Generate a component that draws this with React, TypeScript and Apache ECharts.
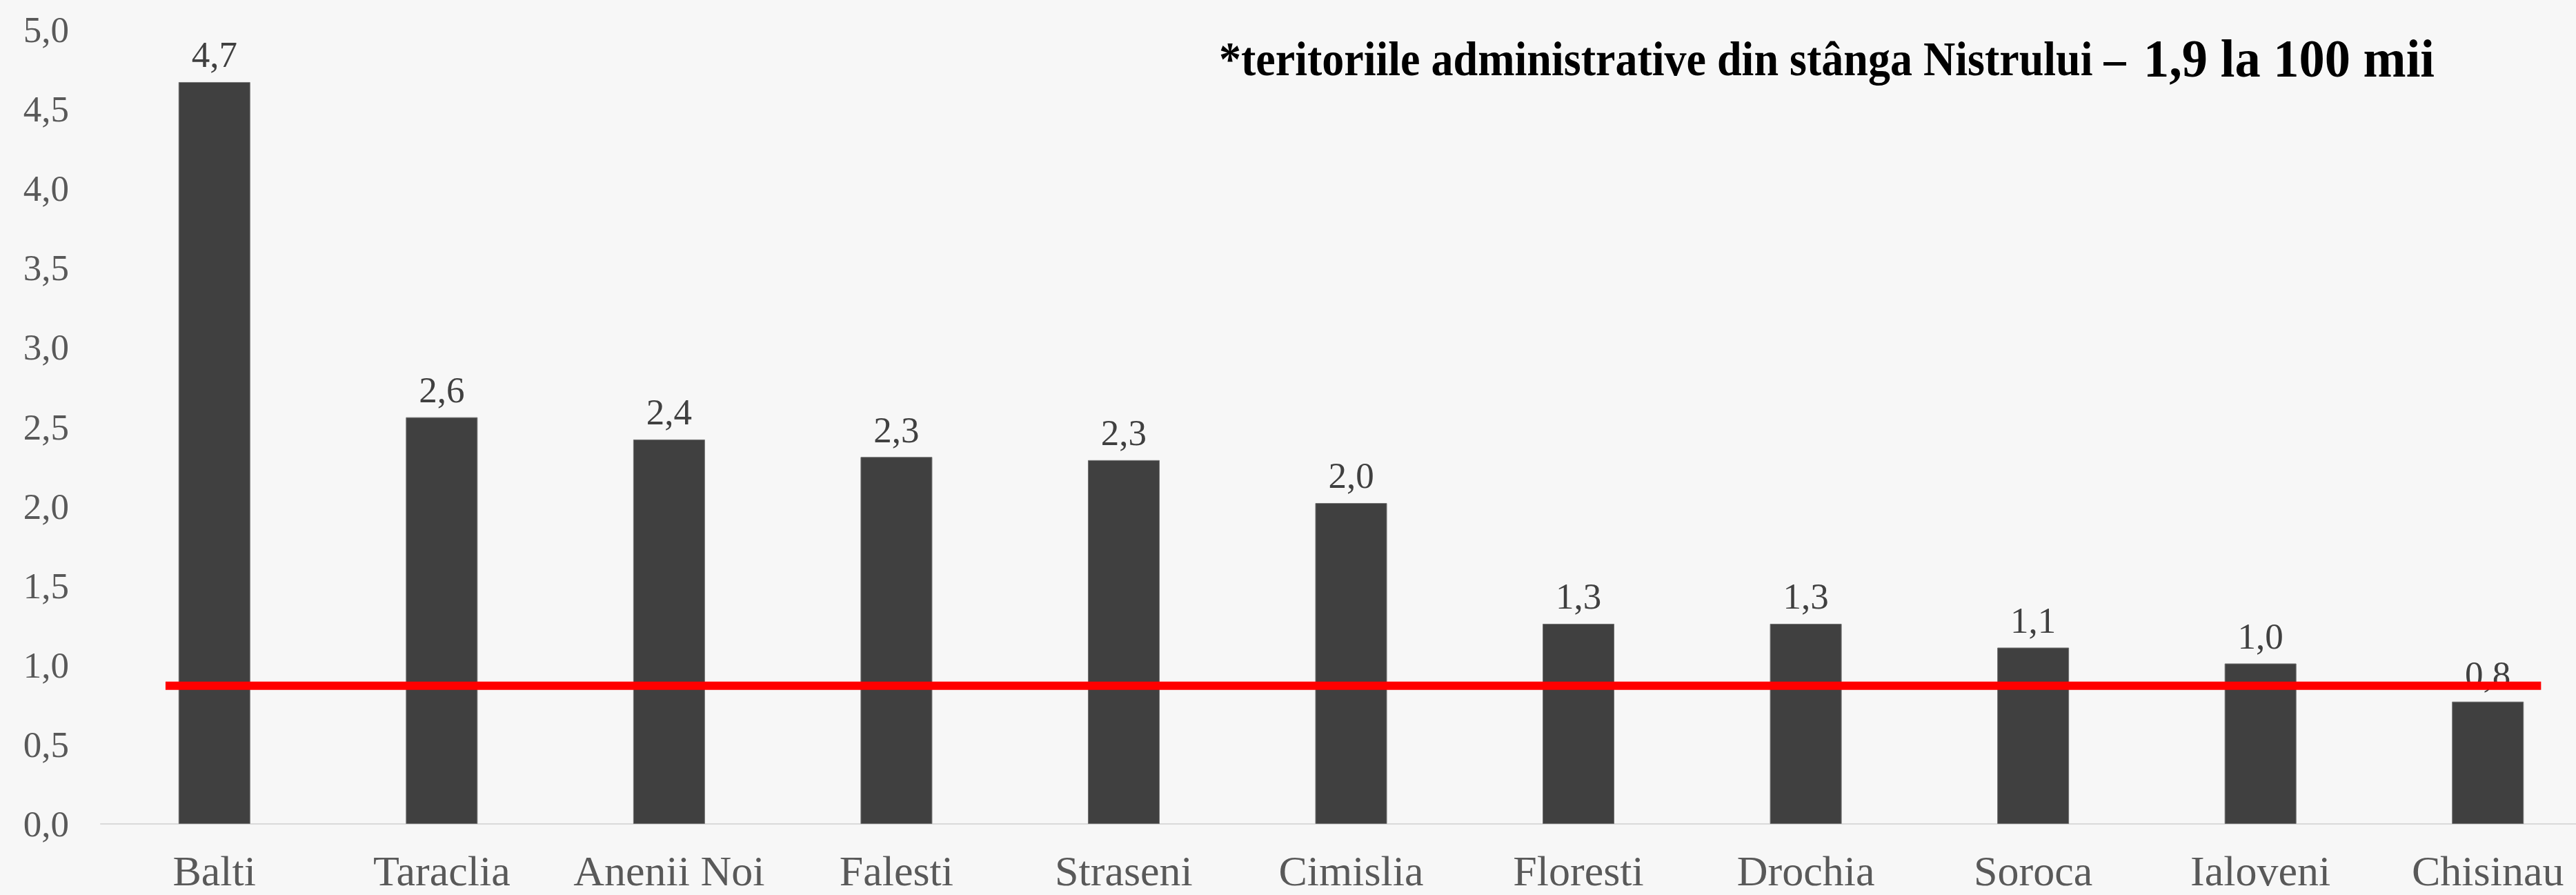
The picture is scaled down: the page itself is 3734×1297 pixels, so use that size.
import React, { useEffect, useRef } from "react";
import * as echarts from "echarts";

const categories = ["Balti", "Taraclia", "Anenii Noi", "Falesti", "Straseni", "Cimislia", "Floresti", "Drochia", "Soroca", "Ialoveni", "Chisinau"];
const values = [4.67, 2.56, 2.42, 2.31, 2.29, 2.02, 1.26, 1.26, 1.11, 1.01, 0.77];
const thresholdValue = 0.87;
const thresholdSpan = [-0.215, 10.234];
const yTicks = { min: 0, max: 5, interval: 0.5 };
const noteMain = "*teritoriile administrative din stânga Nistrului –";
const noteValue = "1,9 la 100 mii";

const FONT = "'Liberation Serif', 'Times New Roman', serif";
const fmt = (v: number) => v.toFixed(1).replace(".", ",");

export default function App() {
  const ref = useRef<HTMLDivElement>(null);
  useEffect(() => {
    if (!ref.current) return;
    const chart = echarts.init(ref.current, undefined, { renderer: "svg" });
    chart.setOption({
      animation: false,
      backgroundColor: "#F7F7F7",
      grid: {
        left: 146,
        top: 43,
        width: 3625,
        bottom: 103,
        containLabel: false,
        outerBoundsMode: "none",
      },
      xAxis: [
        {
          type: "category",
          data: categories,
          axisTick: { show: false },
          axisLine: { lineStyle: { color: "#D9D9D9", width: 2 } },
          axisLabel: {
            fontFamily: FONT,
            fontSize: 62,
            lineHeight: 40,
            color: "#595959",
            margin: 48,
            interval: 0,
          },
        },
        {
          type: "value",
          min: -0.5,
          max: 10.5,
          show: false,
        },
      ],
      yAxis: {
        type: "value",
        min: yTicks.min,
        max: yTicks.max,
        interval: yTicks.interval,
        splitLine: { show: false },
        axisLine: { show: false },
        axisTick: { show: false },
        axisLabel: {
          fontFamily: FONT,
          fontSize: 53,
          color: "#595959",
          margin: 46,
          formatter: (v: number) => fmt(v),
        },
      },
      series: [
        {
          type: "bar",
          data: values,
          barWidth: 104,
          itemStyle: { color: "#404040", borderColor: "#707070", borderWidth: 1 },
          label: {
            show: true,
            position: "top",
            distance: 13,
            fontFamily: FONT,
            fontSize: 53,
            color: "#404040",
            formatter: (p: any) => fmt(p.value),
          },
          z: 2,
        },
        {
          type: "line",
          xAxisIndex: 1,
          data: [
            [thresholdSpan[0], thresholdValue],
            [thresholdSpan[1], thresholdValue],
          ],
          symbol: "none",
          lineStyle: { color: "#FF0000", width: 12 },
          z: 10,
          silent: true,
        },
      ],
      graphic: [
        {
          type: "text",
          x: 1767,
          y: 86,
          scaleX: 0.915,
          style: {
            text: noteMain,
            fontFamily: FONT,
            fontWeight: "bold",
            fontSize: 70,
            fill: "#000000",
            align: "left",
            verticalAlign: "middle",
          },
        },
        {
          type: "text",
          x: 3107,
          y: 84,
          scaleX: 0.955,
          style: {
            text: noteValue,
            fontFamily: FONT,
            fontWeight: "bold",
            fontSize: 78,
            fill: "#000000",
            align: "left",
            verticalAlign: "middle",
          },
        },
      ],
    });
    return () => chart.dispose();
  }, []);
  return (
    <div
      ref={ref}
      style={{ position: "fixed", left: 0, top: 0, width: 3734, height: 1297 }}
    />
  );
}
